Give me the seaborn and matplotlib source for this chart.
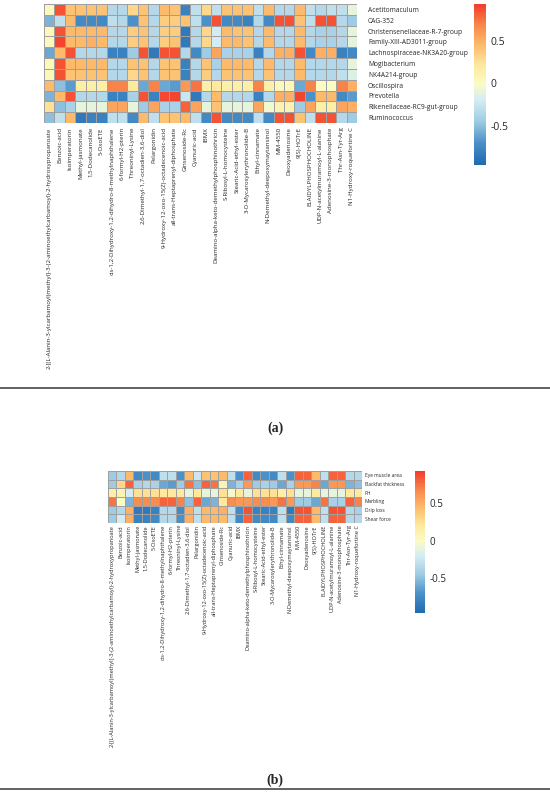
import numpy as np
import pandas as pd
import seaborn as sns
import matplotlib
matplotlib.use("Agg")
from matplotlib import pyplot as plt
from matplotlib.colors import LinearSegmentedColormap

# 代谢物（列）
metabolites = [
    "2-[(L-Alanin-3-ylcarbamoyl)methyl]-3-(2-aminoethylcarbamoyl)-2-hydroxypropanoate",
    "Benzoic-acid", "Isoimperatorin", "Methyl-jasmonate", "1,5-Dodecanolide", "5-OxoETE",
    "cis-1,2-Dihydroxy-1,2-dihydro-8-methylnaphthalene", "6-formyl-H2-pterin",
    "Threoninyl-Lysine", "2,6-Dimethyl-1,7-octadien-3,6-diol", "Pelargonidin",
    "9-Hydroxy-12-oxo-15(Z)-octadecenoic-acid", "all-trans-Heptaprenyl-diphosphate",
    "Ginsenoside-Rc", "Cyanuric-acid", "IBMX",
    "Deamino-alpha-keto-demethylphosphinothricin", "S-Ribosyl-L-homocysteine",
    "Stearic-Acid-ethyl-ester", "3-O-Mycarosylerythronolide-B", "Ethyl-cinnamate",
    "N-Demethyl-deepoxymaytansinol", "MM-4550", "Deoxyadenosine", "9(S)-HOTrE",
    "ELAIDYLPHOSPHOCHOLINE", "UDP-N-acetylmuramoyl-L-alanine",
    "Adenosine-3-monophosphate", "Thr-Asn-Tyr-Arg", "N1-Hydroxy-roquefortine C",
]

# (a) 菌群
bacteria = ["Acetitomaculum", "CAG-352", "Christensenellaceae-R-7-group",
            "Family-XIII-AD3011-group", "Lachnospiraceae-NK3A20-group", "Mogibacterium",
            "NK4A214-group", "Oscillospira", "Prevotella", "Rikenellaceae-RC9-gut-group",
            "Ruminococcus"]

acetitomaculum = [0.05, 0.85, 0.4, 0.4, 0.4, 0.4, -0.35, -0.35, 0.3, 0.4, -0.35, 0.45, 0.4, -0.8, -0.3,
                  0.3, -0.3, 0.4, 0.4, 0.4, -0.3, 0.45, -0.35, -0.35, 0.45, -0.3, -0.35, -0.3, -0.3, -0.1]
cag352 = [-0.55, -0.3, 0.45, -0.75, -0.75, -0.75, -0.3, -0.35, -0.7, 0.4, -0.35, 0.35, 0.35, 0.4, -0.3,
          -0.7, 0.85, -0.75, -0.75, -0.8, -0.35, -0.75, 0.85, 0.85, 0.4, -0.3, 0.85, 0.85, -0.35, -0.45]
christensenellaceae = [0.05, 0.85, 0.45, 0.45, 0.45, 0.45, -0.35, -0.35, 0.35, 0.4, -0.35, 0.35, 0.35, -0.85, -0.35,
                       0.3, -0.2, 0.45, 0.4, 0.4, -0.35, 0.45, -0.35, -0.35, 0.45, -0.35, -0.4, -0.4, -0.35, -0.1]
family_xiii = [0.05, 0.9, 0.45, 0.45, 0.5, 0.45, -0.35, -0.35, 0.35, 0.4, -0.35, 0.35, 0.4, -0.85, -0.35,
               0.3, -0.2, 0.45, 0.45, 0.4, -0.35, 0.45, -0.35, -0.35, 0.45, -0.35, -0.4, -0.4, -0.35, -0.1]
lachnospiraceae = [-0.6, 0.45, 0.85, -0.35, -0.35, -0.35, -0.8, -0.8, -0.45, 0.85, -0.85, 0.85, 0.85, -0.35, -0.75,
                   -0.45, 0.55, -0.4, -0.4, -0.4, -0.8, -0.35, 0.5, 0.5, 0.85, -0.75, 0.5, 0.5, -0.8, -0.75]
mogibacterium = [0.05, 0.85, 0.45, 0.45, 0.45, 0.45, -0.35, -0.35, 0.4, 0.4, -0.35, 0.4, 0.4, -0.8, -0.35,
                 0.4, -0.4, 0.45, 0.45, 0.45, -0.35, 0.45, -0.35, -0.35, 0.45, -0.35, -0.35, -0.35, -0.35, -0.1]
nk4a214 = [0.05, 0.85, 0.4, 0.4, 0.4, 0.4, -0.35, -0.35, 0.3, 0.4, -0.35, 0.4, 0.4, -0.8, -0.35,
           0.35, -0.35, 0.4, 0.4, 0.4, -0.35, 0.4, -0.35, -0.35, 0.45, -0.35, -0.35, -0.35, -0.3, -0.15]
oscillospira = [0.45, -0.5, -0.65, 0.15, 0.15, 0.15, 0.7, 0.7, 0.2, -0.6, 0.7, -0.6, -0.65, 0.6, 0.75,
                0.15, 0.2, 0.15, 0.15, 0.15, 0.7, 0.15, 0.05, 0.05, -0.6, 0.7, 0.0, 0.0, 0.7, 0.5]
prevotella = [-0.55, 0.45, 0.85, -0.35, -0.35, -0.35, -0.8, -0.8, -0.4, 0.85, -0.8, 0.88, 0.9, -0.25, -0.85,
              -0.35, 0.45, -0.35, -0.35, -0.35, -0.8, -0.35, 0.5, 0.5, 0.9, -0.7, 0.45, 0.45, -0.75, -0.65]
rikenellaceae = [0.25, -0.5, -0.4, -0.1, -0.1, -0.1, 0.55, 0.55, -0.1, -0.45, 0.55, -0.4, -0.4, 0.8, 0.55,
                 -0.1, 0.4, -0.1, -0.1, -0.1, 0.55, -0.05, 0.1, 0.1, -0.45, 0.55, 0.15, 0.15, 0.55, 0.5]
ruminococcus = [-0.5, -0.3, 0.45, -0.85, -0.8, -0.8, -0.3, -0.3, -0.75, 0.45, -0.3, 0.4, 0.4, 0.45, -0.3,
                -0.75, 0.85, -0.75, -0.75, -0.75, -0.3, -0.75, 0.85, 0.85, 0.4, -0.3, 0.85, 0.85, -0.35, -0.45]

# (b) 肉质性状
traits = ["Eye muscle area", "Backfat thickness", "PH", "Marbling", "Drip loss", "Shear force"]

eye_muscle = [-0.45, -0.35, 0.45, -0.75, -0.7, -0.75, -0.3, -0.3, -0.7, 0.45, -0.25, 0.4, 0.4, 0.45, -0.3,
              -0.7, 0.8, -0.75, -0.7, -0.75, -0.3, -0.7, 0.8, 0.8, 0.45, -0.3, 0.8, 0.8, -0.35, -0.35]
backfat = [-0.45, 0.3, 0.8, -0.4, -0.35, -0.4, -0.6, -0.65, -0.45, 0.75, -0.5, 0.8, 0.75, 0.1, -0.55,
           -0.4, 0.6, -0.45, -0.4, -0.45, -0.6, -0.4, 0.6, 0.6, 0.7, -0.6, 0.6, 0.6, -0.55, -0.5]
ph = [0.15, 0.1, -0.2, 0.25, 0.25, 0.25, 0.2, 0.2, 0.2, -0.1, 0.2, -0.1, -0.1, 0.25, -0.05,
      0.2, -0.1, 0.25, 0.25, 0.25, 0.15, 0.25, -0.1, -0.1, 0.2, -0.1, -0.1, -0.1, 0.2, 0.2]
marbling = [0.75, 0.0, -0.55, 0.65, 0.65, 0.65, 0.8, 0.8, 0.7, -0.5, 0.8, -0.6, -0.55, 0.2, 0.65,
            0.6, 0.6, 0.65, 0.65, 0.6, 0.75, 0.6, -0.45, -0.45, -0.6, 0.75, -0.4, -0.4, 0.8, 0.7]
drip_loss = [-0.45, -0.35, 0.5, -0.85, -0.85, -0.8, -0.35, -0.35, -0.75, 0.5, -0.3, 0.45, 0.45, 0.5, -0.3,
             -0.75, 0.85, -0.8, -0.8, -0.8, -0.3, -0.85, 0.85, 0.85, 0.45, -0.3, 0.85, 0.85, -0.35, -0.4]
shear_force = [-0.45, -0.2, 0.5, -0.8, -0.8, -0.75, -0.35, -0.35, -0.7, 0.5, -0.3, 0.45, 0.45, 0.45, -0.3,
               -0.75, 0.8, -0.75, -0.75, -0.75, -0.3, -0.75, 0.8, 0.8, 0.45, -0.3, 0.8, 0.8, -0.35, -0.35]

df_a = pd.DataFrame([acetitomaculum, cag352, christensenellaceae, family_xiii, lachnospiraceae,
                     mogibacterium, nk4a214, oscillospira, prevotella, rikenellaceae, ruminococcus],
                    index=bacteria, columns=metabolites)
df_b = pd.DataFrame([eye_muscle, backfat, ph, marbling, drip_loss, shear_force],
                    index=traits, columns=metabolites)

# 颜色
vmin, vmax = -0.96, 0.93
nodes = [(-0.96, "#2169b1"), (-0.7, "#4b91c9"), (-0.45, "#9fcbe4"), (-0.2, "#d4edf3"),
         (0.0, "#fbfbc4"), (0.2, "#feea9f"), (0.45, "#fdba6b"), (0.7, "#f7834b"), (0.93, "#f33b2a")]
cmap = LinearSegmentedColormap.from_list(
    "rdylbu_custom", [((v - vmin) / (vmax - vmin), c) for v, c in nodes])

sns.set_style("white")
plt.rcParams['font.family'] = ['Open Sans', 'DejaVu Sans']

W, H = 550, 796
fig = plt.figure(figsize=(W / 100, H / 100), dpi=100)


def px_axes(x0, y0, x1, y1):
    return fig.add_axes([x0 / W, 1 - y1 / H, (x1 - x0) / W, (y1 - y0) / H])


def draw_panel(df, hm_box, cb_box, col_fs, row_fs, row_pad, col_pad, cb_fs):
    ax = px_axes(*hm_box)
    cax = px_axes(*cb_box)
    sns.heatmap(df, ax=ax, cbar_ax=cax, cmap=cmap, vmin=vmin, vmax=vmax,
                linewidths=0.6, linecolor="#a0a0a0", xticklabels=True, yticklabels=True)
    ax.yaxis.tick_right()
    ax.set_yticklabels(df.index, rotation=0, fontsize=row_fs)
    ax.set_xticklabels(df.columns, rotation=90, fontsize=col_fs)
    ax.tick_params(axis="y", length=0, pad=row_pad)
    ax.tick_params(axis="x", length=0, pad=col_pad)
    ax.set_xlabel("")
    ax.set_ylabel("")
    cax.set_yticks([0.5, 0, -0.5])
    cax.set_yticklabels(["0.5", "0", "-0.5"])
    cax.tick_params(length=0, labelsize=cb_fs, pad=3)
    for s in cax.spines.values():
        s.set_visible(False)
    return ax


draw_panel(df_a, (44, 4, 357, 123), (474, 4, 486, 165), 4.4, 4.8, 8, 3, 7.5)
draw_panel(df_b, (108, 471, 362, 523), (415, 471, 425, 613), 4.1, 3.5, 2, 1.5, 7)

# 分隔线和标注
for y in (388, 789):
    fig.add_artist(plt.Line2D([0, 1], [1 - y / H, 1 - y / H], color="#555555", lw=1.3))
fig.text(0.5, 1 - 428 / H, "(a)", ha="center", va="center", fontsize=10,
         fontweight="bold", family="Liberation Serif")
fig.text(0.5, 1 - 780 / H, "(b)", ha="center", va="center", fontsize=10,
         fontweight="bold", family="Liberation Serif")

fig.savefig("out.png", dpi=100)
